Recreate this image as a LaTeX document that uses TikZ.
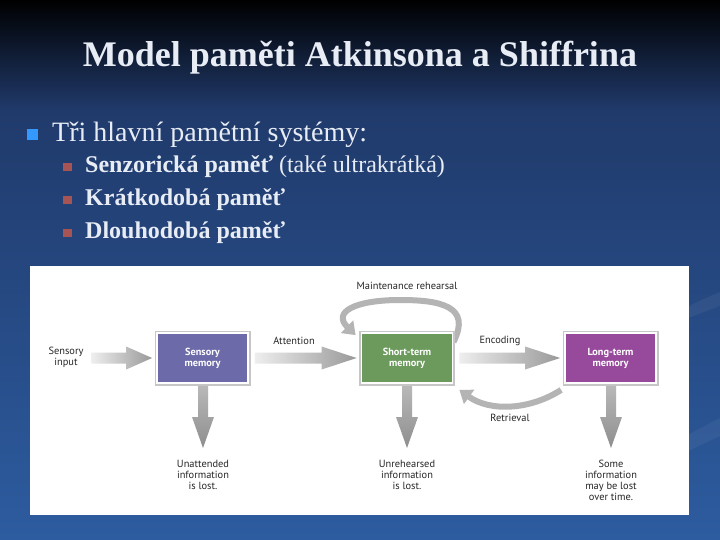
\documentclass[tikz,border=0pt]{standalone}
\usepackage{fontspec}
\setmainfont{Liberation Serif}
\newfontfamily\diagfont{PT Sans}
\usetikzlibrary{arrows.meta,calc}
\definecolor{bgtop}{HTML}{000000}
\definecolor{bgmid}{HTML}{203A6B}
\definecolor{bgbot}{HTML}{2D5CA0}
\definecolor{titlecol}{HTML}{E8EDF5}
\definecolor{bulblue}{HTML}{3399FF}
\definecolor{bulred}{HTML}{A65454}
\definecolor{senscol}{HTML}{6C6AA9}
\definecolor{stmcol}{HTML}{6B9A5C}
\definecolor{ltmcol}{HTML}{974A9C}
\definecolor{arrL}{HTML}{EEEEEE}
\definecolor{arrR}{HTML}{999999}
\definecolor{arrT}{HTML}{B8B8B8}
\definecolor{arrB}{HTML}{8E8E8E}
\definecolor{loopcol}{HTML}{B4B4B4}
\tikzset{
  membox/.style={minimum width=91pt, minimum height=50pt, inner sep=0pt,
    fill=#1, draw=white, line width=1.8pt, text=white, align=center,
    font=\diagfont\bfseries\fontsize{10.3}{11}\selectfont,
    preaction={draw=gray!45, line width=5pt}},
  dlabel/.style={inner sep=0pt, align=center, text=black!85,
    font=\diagfont\fontsize{10.4}{11}\selectfont},
  curvearrow/.style={draw=loopcol, line width=6pt,
    -{Triangle[length=12pt,width=17pt]}},
  bullettext/.style={anchor=base west, inner sep=0pt, text=titlecol},
}
% horizontal fat arrow: start, tip, head length
\newcommand\fatH[3]{%
  \shade[left color=arrL, right color=arrR] let \p1=(#1), \p2=(#2) in
    (\x1,\y2+5.5pt) -- (\x2-#3,\y2+5.5pt) -- (\x2-#3,\y2+11.5pt) -- (\x2,\y2)
    -- (\x2-#3,\y2-11.5pt) -- (\x2-#3,\y2-5.5pt) -- (\x1,\y2-5.5pt) -- cycle;}
% vertical fat arrow: top, tip
\newcommand\fatV[2]{%
  \shade[top color=arrT, bottom color=arrB] let \p1=(#1), \p2=(#2) in
    (\x2-5pt,\y1) -- (\x2-5pt,\y2+31pt) -- (\x2-11pt,\y2+31pt) -- (\x2,\y2)
    -- (\x2+11pt,\y2+31pt) -- (\x2+5pt,\y2+31pt) -- (\x2+5pt,\y1) -- cycle;}
\begin{document}
\begin{tikzpicture}[x=1pt,y=-1pt]
\useasboundingbox (0,0) rectangle (720,540);
% background
\shade[top color=bgtop, bottom color=bgmid] (0,0) rectangle (720,110);
\shade[top color=bgmid, bottom color=bgbot] (0,110) rectangle (720,540);
\fill[white, opacity=0.05] (640,330) .. controls (670,315) and (700,300) .. (720,292) -- (720,306) .. controls (700,313) and (670,325) .. (640,340) -- cycle;
\fill[white, opacity=0.05] (640,460) .. controls (670,445) and (700,428) .. (720,418) -- (720,436) .. controls (700,445) and (670,460) .. (640,475) -- cycle;
% title
\node[text=titlecol, font=\bfseries\fontsize{36}{40}\selectfont, anchor=base, inner sep=0pt] (title) at (360,67) {Model paměti Atkinsona a Shiffrina};
% bullets
\fill[bulblue] (27,129) rectangle (38,140);
\node[bullettext, font=\fontsize{28}{32}\selectfont] (b0) at (52,142) {Tři hlavní pamětní systémy:};
\foreach \yy/\txt [count=\i] in {173/{\textbf{Senzorická paměť} (také ultrakrátká)}, 206/{\textbf{Krátkodobá paměť}}, 239/{\textbf{Dlouhodobá paměť}}}{
  \fill[bulred] (63,\yy-10) rectangle (72,\yy-2);
  \node[bullettext, font=\fontsize{24}{28}\selectfont] (b\i) at (85,\yy) {\txt};
}
% diagram panel
\fill[white] (30,266) rectangle (689,515);
\node[membox=senscol] (sens) at (202.5,358) {Sensory\\memory};
\node[membox=stmcol] (stm) at (407,358) {Short-term\\memory};
\node[membox=ltmcol] (ltm) at (610.5,358) {Long-term\\memory};
\node[dlabel] (sin) at (66,357) {Sensory\\input};
\node[dlabel] (att) at (294,341) {Attention};
\node[dlabel] (enc) at (500,341) {Encoding};
\node[dlabel] (ret) at (510,418) {Retrieval};
\node[dlabel] (mr) at (407,286) {Maintenance rehearsal};
\node[dlabel, anchor=north] (lost1) at (203,460) {Unattended\\information\\is lost.};
\node[dlabel, anchor=north] (lost2) at (407,460) {Unrehearsed\\information\\is lost.};
\node[dlabel, anchor=north] (lost3) at (611,460) {Some\\information\\may be lost\\over time.};
% fat arrows
\fatH{$(sin.east)+(8,0)$}{$(sens.west)+(-4,0)$}{26pt}
\fatH{$(sens.east)+(6,0)$}{$(stm.west)+(-4,0)$}{35pt}
\fatH{$(stm.east)+(6,0)$}{$(ltm.west)+(-4,0)$}{35pt}
\fatV{$(sens.south)+(0,2)$}{$(lost1.north)+(0,-12)$}
\fatV{$(stm.south)+(0,2)$}{$(lost2.north)+(0,-12)$}
\fatV{$(ltm.south)+(0,2)$}{$(lost3.north)+(0,-12)$}
% curved arrows
\coordinate (mrs) at ($(stm.north east)+(0,10)$);
\coordinate (mre) at ($(stm.north west)+(-5,3)$);
\draw[curvearrow] (mrs) .. controls (472,306) and (440,300) .. (400,300) .. controls (355,300) and (332,312) .. (mre);
\coordinate (rts) at ($(ltm.south west)+(-3,6)$);
\coordinate (rte) at ($(stm.south east)+(6,6)$);
\draw[curvearrow] (rts) .. controls (530,410) and (490,412) .. (rte);
% box drawn again over the start of the loop
\node[membox=stmcol] at (stm) {Short-term\\memory};
\end{tikzpicture}
\end{document}
